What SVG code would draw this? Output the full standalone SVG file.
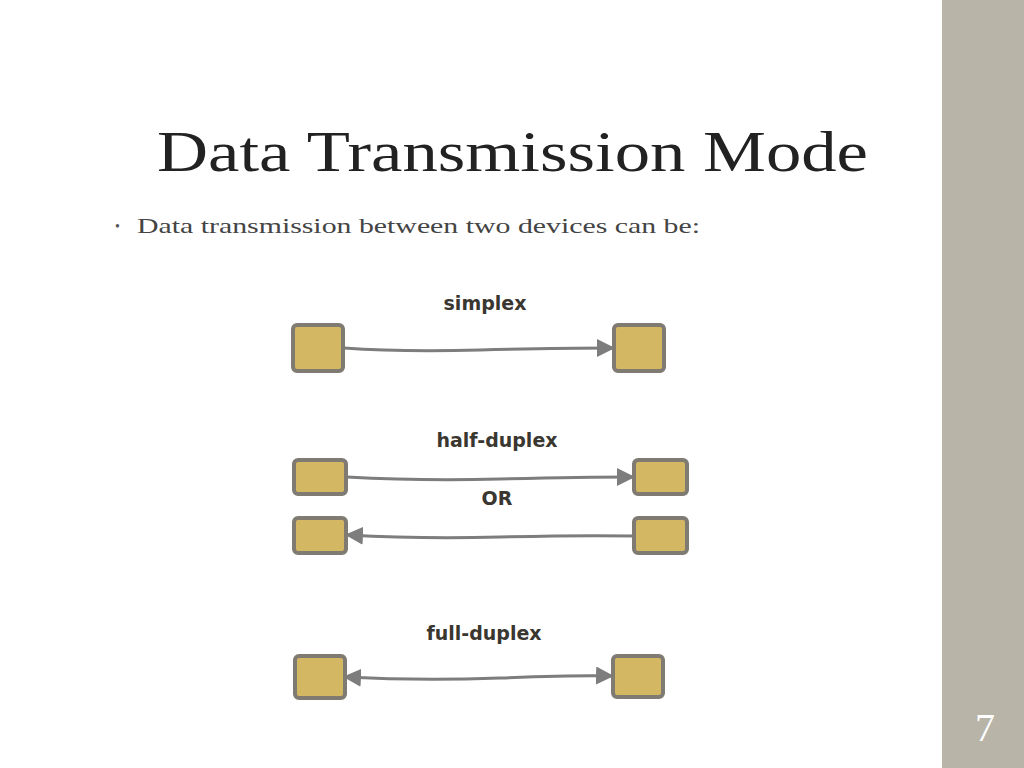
<svg xmlns="http://www.w3.org/2000/svg" width="1024" height="768" viewBox="0 0 1024 768">
<style>
.b{fill:#d3b763;stroke:#7f7b73;stroke-width:4}
.c{stroke:#7d7d7d;stroke-width:3;fill:none}
.h{font-family:"Comic Sans MS","DejaVu Sans",sans-serif;font-weight:bold;font-size:19px;fill:#3a3630;text-anchor:middle}
</style>
<defs>
<marker id="a" markerWidth="6" markerHeight="6" refX="5" refY="3" orient="auto-start-reverse" markerUnits="strokeWidth"><path d="M0,0L6,3L0,6z" fill="#7d7d7d"/></marker>
</defs>
<rect width="1024" height="768" fill="#fff"/>
<rect x="942" y="0" width="82" height="768" fill="#b8b4a8"/>
<text x="985" y="741" font-family="Liberation Serif,serif" font-size="40" fill="#fff" text-anchor="middle">7</text>
<text x="157" y="171" font-family="Liberation Serif,serif" font-size="58" fill="#222" textLength="711" lengthAdjust="spacingAndGlyphs">Data Transmission Mode</text>
<text x="115" y="231" font-family="Liberation Serif,serif" font-size="14" fill="#555">•</text>
<text x="137" y="233" font-family="Liberation Serif,serif" font-size="22" fill="#444" textLength="563" lengthAdjust="spacingAndGlyphs">Data transmission between two devices can be:</text>
<text class="h" x="485" y="310">simplex</text>
<text class="h" x="497" y="447">half-duplex</text>
<text class="h" x="497" y="505">OR</text>
<text class="h" x="484" y="640">full-duplex</text>
<g id="connectors">
<path class="c" d="M344,348 Q400,352 480,350 T612,348" marker-end="url(#a)"/>
<path class="c" d="M347,477 Q420,481 500,479 T632,477" marker-end="url(#a)"/>
<path class="c" d="M348,535 Q420,539 500,537 T633,536" marker-start="url(#a)"/>
<path class="c" d="M346,677 Q420,681 500,678 T611,676" marker-start="url(#a)" marker-end="url(#a)"/>
</g>
<g id="s1"><rect class="b" x="293" y="325" width="50" height="46" rx="4"/></g>
<g id="s2"><rect class="b" x="614" y="325" width="50" height="46" rx="4"/></g>
<g id="h1"><rect class="b" x="294" y="460" width="52" height="34" rx="4"/></g>
<g id="h2"><rect class="b" x="634" y="460" width="53" height="34" rx="4"/></g>
<g id="h3"><rect class="b" x="294" y="518" width="52" height="35" rx="4"/></g>
<g id="h4"><rect class="b" x="634" y="518" width="53" height="35" rx="4"/></g>
<g id="f1"><rect class="b" x="295" y="656" width="50" height="42" rx="4"/></g>
<g id="f2"><rect class="b" x="613" y="656" width="50" height="41" rx="4"/></g>
</svg>
